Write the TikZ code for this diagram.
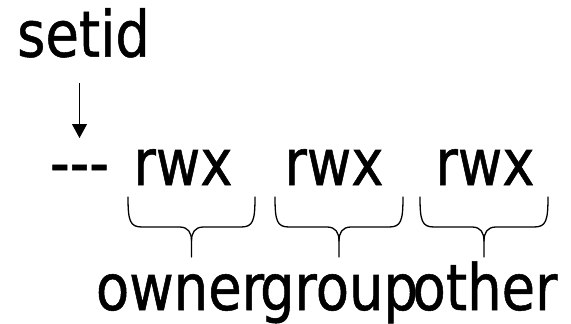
\documentclass[tikz,border=0pt]{standalone}
\usepackage{fontspec}
\setmainfont{DejaVu Sans}[FakeStretch=0.85,FakeBold=0.8]
\usetikzlibrary{arrows.meta}
\tikzset{
  lbl/.style={font=\fontsize{64}{70}\selectfont, inner sep=0pt, anchor=base},
  bracestyle/.style={line width=1.3pt, line cap=round, line join=round},
  arr/.style={line width=1pt, -{Triangle[length=14pt,width=15pt]}}
}
\newcommand\ubracepath[3]{%
  \draw[bracestyle] (#1,197) .. controls (#1,221) and (#1+2,227) .. (#1+14,227) -- (#3-12,227)
      .. controls (#3-3,227) and (#3,233) .. (#3,241) -- (#3,257);
  \draw[bracestyle] (#2,197) .. controls (#2,221) and (#2-2,227) .. (#2-14,227) -- (#3+12,227)
      .. controls (#3+3,227) and (#3,233) .. (#3,241);}
\begin{document}
\begin{tikzpicture}[x=1pt,y=-1pt]
  \useasboundingbox (0,0) rectangle (571,324);
  \node[lbl] (setid) at (83.5,56.7) {setid};
  \node[lbl] (dash) at (79.5,185) {-{}-{}-};
  \node[lbl] (rwx1) at (183,185) {rwx};
  \node[lbl] (rwx2) at (334,185) {rwx};
  \node[lbl] (rwx3) at (485,185) {rwx};
  \node[lbl] (owner) at (180,310) {owner};
  \node[lbl] (group) at (339,310) {group};
  \node[lbl] (other) at (485,310) {other};
  \draw[arr] ([yshift=-26.3pt]setid.base -| dash.center) -- ([yshift=47pt]dash.base);
  \ubracepath{128}{255}{191.5}
  \ubracepath{275}{403}{339}
  \ubracepath{420}{548}{484}
\end{tikzpicture}
\end{document}
